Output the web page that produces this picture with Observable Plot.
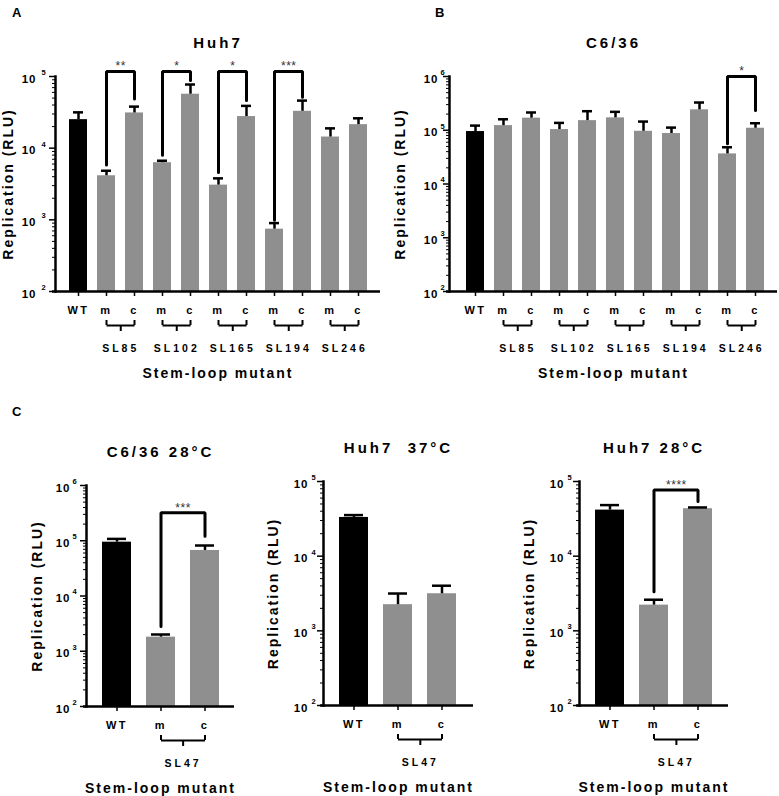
<!DOCTYPE html>
<html>
<head>
<meta charset="utf-8">
<script src="https://cdn.jsdelivr.net/npm/d3@7"></script>
<script src="https://cdn.jsdelivr.net/npm/@observablehq/plot@0.6"></script>
<style>
  body { margin: 0; background: #fff; }
  #fig { position: relative; width: 779px; height: 796px; font-family: "Liberation Sans", Arial, sans-serif; background: #fff; overflow: hidden; }
  .panel { position: absolute; }
  .letter { position: absolute; font-weight: bold; font-size: 13px; line-height: 13px; color: #000; }
  svg text { white-space: pre; }
  g[font-size="15"] text { letter-spacing: 3px; }
  g[font-size="14"] text { letter-spacing: 2px; }
  g[font-size="11"] text { letter-spacing: 2.5px; }
  g[font-size="10.5"] text { letter-spacing: 3px; }
  g[font-size="11.5"] text { letter-spacing: 1px; }
  g[font-size="12"] text { letter-spacing: 0.5px; }
</style>
</head>
<body>
<div id="fig"></div>
<script>
// ---------- Data ----------
const keysAB = ["WT","SL85 m","SL85 c","SL102 m","SL102 c","SL165 m","SL165 c","SL194 m","SL194 c","SL246 m","SL246 c"];
const tickLabelsAB = ["WT","m","c","m","c","m","c","m","c","m","c"];
const groupsAB = ["SL85","SL102","SL165","SL194","SL246"];

// Panel A: Huh7
const huh7Mean   = [25000, 4120, 31000, 6270, 56600, 3050, 27600, 741, 32700, 14300, 21300];
const huh7ErrTop = [31600, 4840, 38000, 6680, 77300, 3790, 38900, 900, 46100, 18900, 26100];
const huh7SigGroups = ["SL85","SL102","SL165","SL194"];
const huh7SigStars  = ["**","*","*","***"];
const huh7SigLow    = [5820, 7940, 4590, 990];
const huh7SigHigh   = [48700, 87900, 46100, 51300];
const huh7SigTop    = [117000, 117000, 117000, 117000];

// Panel B: C6/36
const c636Mean   = [94600, 122000, 168000, 103000, 151000, 170000, 95700, 86900, 240000, 36300, 109000];
const c636ErrTop = [122000, 160000, 214000, 137000, 226000, 220000, 145000, 112000, 328000, 48200, 135000];
const c636SigGroups = ["SL246"];
const c636SigStars  = ["*"];
const c636SigLow    = [55800];
const c636SigHigh   = [233000];
const c636SigTop    = [1000000];

// Panel C
const keysC = ["WT","SL47 m","SL47 c"];
const tickLabelsC = ["WT","m","c"];
const groupsC = ["SL47"];

const c636_28Mean   = [94200, 1800, 66700];
const c636_28ErrTop = [108000, 2010, 82000];
const c636_28SigGroups = ["SL47"];
const c636_28SigStars  = ["***"];
const c636_28SigLow    = [2810];
const c636_28SigHigh   = [121000];
const c636_28SigTop    = [321000];

const huh7_37Mean   = [33000, 2240, 3140];
const huh7_37ErrTop = [35500, 3160, 4020];

const huh7_28Mean   = [41400, 2210, 43200];
const huh7_28ErrTop = [48300, 2610, 44900];
const huh7_28SigGroups = ["SL47"];
const huh7_28SigStars  = ["****"];
const huh7_28SigLow    = [3340];
const huh7_28SigHigh   = [54000];
const huh7_28SigTop    = [76800];

const yTitle = "Replication (RLU)";
const xTitle = "Stem-loop mutant";

// ---------- Drawing ----------
const FONT = "'Liberation Sans', Arial, Helvetica, sans-serif";
const GRAY = "#8f8f8f";

function drawPanel(cfg) {
  const n = cfg.keys.length;
  const rows = cfg.keys.map((k, i) => ({key: k, label: cfg.labels[i], mean: cfg.mean[i], err: cfg.err[i]}));
  const [lo, hi] = cfg.domain;
  const e0 = Math.round(Math.log10(lo)), e1 = Math.round(Math.log10(hi));
  const majors = d3.range(e0, e1 + 1).map(e => Math.pow(10, e));
  const minors = d3.range(e0, e1).flatMap(e => d3.range(2, 10).map(k => k * Math.pow(10, e)));
  const innerW = cfg.width - cfg.ml - cfg.mr;
  const step = innerW / (n - cfg.pi + 2 * cfg.po);
  const sigG = cfg.sigGroups || [];
  const sig = sigG.map((g, i) => ({g, stars: cfg.sigStars[i], low: cfg.sigLow[i], high: cfg.sigHigh[i], top: cfg.sigTop[i]}));
  const sigPath = sig.flatMap((s, i) => [
    {id: i, x: s.g + " m", y: s.low},
    {id: i, x: s.g + " m", y: s.top},
    {id: i, x: s.g + " c", y: s.top},
    {id: i, x: s.g + " c", y: s.high}
  ]);
  const stubs = cfg.groups.flatMap(g => [g + " m", g + " c"]);
  const base = () => lo;

  const svg = Plot.plot({
    width: cfg.width, height: cfg.height,
    marginTop: cfg.mt, marginRight: cfg.mr, marginBottom: cfg.mb, marginLeft: cfg.ml,
    x: {type: "band", domain: cfg.keys, paddingInner: cfg.pi, paddingOuter: cfg.po, align: cfg.align, axis: null},
    y: {type: "log", domain: cfg.domain, axis: null},
    style: {fontFamily: FONT, fontWeight: "bold", color: "#000", background: "transparent", overflow: "visible"},
    marks: [
      Plot.barY(rows, {x: "key", y1: base, y2: "mean", fill: d => d.key === "WT" ? "#000" : GRAY}),
      Plot.ruleX(rows, {x: "key", y1: "mean", y2: "err", strokeWidth: 2.5}),
      Plot.tickY(rows, {x: "key", y: "err", strokeWidth: 2.5, inset: cfg.capInset}),
      Plot.line(sigPath, {x: "x", y: "y", z: "id", strokeWidth: 3, strokeLinejoin: "miter"}),
      Plot.text(sig, {x: d => d.g + " m", y: "top", dx: step / 2, dy: -5, text: "stars", fontSize: 12, fontWeight: "normal", fill: "#333", lineAnchor: "middle"}),
      Plot.frame({anchor: "left", strokeWidth: 2.5}),
      Plot.ruleY([lo], {strokeWidth: 2.5, insetLeft: -3}),
      Plot.axisY(majors, {tickSize: 6, tickFormat: () => "", strokeWidth: 1.5, label: null}),
      Plot.axisY(minors, {tickSize: 3, tickFormat: () => "", strokeWidth: 1, label: null}),
      Plot.text(majors, {y: d => d, frameAnchor: "left", dx: cfg.tenDx, dy: 2.5, textAnchor: "end", lineAnchor: "middle", text: () => "10", fontSize: 11.5}),
      Plot.text(majors, {y: d => d, frameAnchor: "left", dx: cfg.expDx, dy: -4, textAnchor: "start", lineAnchor: "middle", text: d => String(Math.round(Math.log10(d))), fontSize: 7.5}),
      Plot.axisX({tickSize: 5, tickFormat: () => "", strokeWidth: 1.5, label: null}),
      Plot.text(rows, {x: "key", y: base, dy: 19, text: "label", fontSize: 11, lineAnchor: "middle"}),
      Plot.link(cfg.groups, {x1: g => g + " m", x2: g => g + " c", y1: base, y2: base, dy: 34, strokeWidth: 2}),
      Plot.ruleX(stubs, {x: d => d, y1: base, y2: base, dy: 29, insetBottom: -5, strokeWidth: 2}),
      Plot.ruleX(cfg.groups, {x: g => g + " m", y1: base, y2: base, dx: step / 2, dy: 34, insetBottom: -6, strokeWidth: 2}),
      Plot.text(cfg.groups, {x: g => g + " m", y: base, dx: step / 2, dy: 57, text: d => d, fontSize: 10.5, lineAnchor: "middle"}),
      Plot.text([xTitle], {frameAnchor: "bottom", dy: 82, text: d => d, fontSize: 14, lineAnchor: "middle", textAnchor: "middle"}),
      Plot.text([yTitle], {frameAnchor: "left", dx: cfg.yTitleDx, rotate: -90, text: d => d, fontSize: 14, lineAnchor: "middle", textAnchor: "middle"}),
      Plot.text([cfg.title], {frameAnchor: "top", dy: -33, text: d => d, fontSize: 15, lineAnchor: "middle", textAnchor: "middle"})
    ]
  });
  svg.classList.add("panel");
  svg.style.left = cfg.left + "px";
  svg.style.top = cfg.top + "px";
  svg.style.position = "absolute";
  document.getElementById("fig").appendChild(svg);
}

drawPanel({
  title: "Huh7", keys: keysAB, labels: tickLabelsAB, groups: groupsAB,
  mean: huh7Mean, err: huh7ErrTop,
  sigGroups: huh7SigGroups, sigStars: huh7SigStars, sigLow: huh7SigLow, sigHigh: huh7SigHigh, sigTop: huh7SigTop,
  domain: [100, 1e5],
  left: 0, top: 0, width: 390, height: 390, mt: 76, mr: 10, mb: 99, ml: 55,
  pi: 0.368, po: 0.386, align: 0.5, capInset: 4,
  tenDx: -19, expDx: -14, yTitleDx: -47
});

drawPanel({
  title: "C6/36", keys: keysAB, labels: tickLabelsAB, groups: groupsAB,
  mean: c636Mean, err: c636ErrTop,
  sigGroups: c636SigGroups, sigStars: c636SigStars, sigLow: c636SigLow, sigHigh: c636SigHigh, sigTop: c636SigTop,
  domain: [100, 1e6],
  left: 390, top: 0, width: 389, height: 390, mt: 76, mr: 2, mb: 99, ml: 59,
  pi: 0.368, po: 0.44, align: 0.55, capInset: 4,
  tenDx: -11, expDx: -9, yTitleDx: -49
});

drawPanel({
  title: "C6/36 28°C", keys: keysC, labels: tickLabelsC, groups: groupsC,
  mean: c636_28Mean, err: c636_28ErrTop,
  sigGroups: c636_28SigGroups, sigStars: c636_28SigStars, sigLow: c636_28SigLow, sigHigh: c636_28SigHigh, sigTop: c636_28SigTop,
  domain: [100, 1e6],
  left: 0, top: 390, width: 260, height: 406, mt: 95, mr: 26, mb: 90, ml: 86,
  pi: 0.345, po: 0.345, align: 0.5, capInset: 5,
  tenDx: -16, expDx: -14, yTitleDx: -49
});

drawPanel({
  title: "Huh7  37°C", keys: keysC, labels: tickLabelsC, groups: groupsC,
  mean: huh7_37Mean, err: huh7_37ErrTop,
  domain: [100, 1e5],
  left: 260, top: 390, width: 260, height: 406, mt: 91, mr: 47, mb: 91, ml: 63,
  pi: 0.336, po: 0.348, align: 0.5, capInset: 5,
  tenDx: -15, expDx: -12, yTitleDx: -50
});

drawPanel({
  title: "Huh7 28°C", keys: keysC, labels: tickLabelsC, groups: groupsC,
  mean: huh7_28Mean, err: huh7_28ErrTop,
  sigGroups: huh7_28SigGroups, sigStars: huh7_28SigStars, sigLow: huh7_28SigLow, sigHigh: huh7_28SigHigh, sigTop: huh7_28SigTop,
  domain: [100, 1e5],
  left: 520, top: 390, width: 259, height: 406, mt: 91, mr: 51, mb: 91, ml: 59,
  pi: 0.345, po: 0.336, align: 0.5, capInset: 5,
  tenDx: -15, expDx: -12, yTitleDx: -50
});

// Panel letters
[["A", 12, 5.5], ["B", 435, 5.5], ["C", 12, 404.5]].forEach(([t, x, y]) => {
  const d = document.createElement("div");
  d.className = "letter";
  d.textContent = t;
  d.style.left = x + "px";
  d.style.top = y + "px";
  document.getElementById("fig").appendChild(d);
});
</script>
</body>
</html>
